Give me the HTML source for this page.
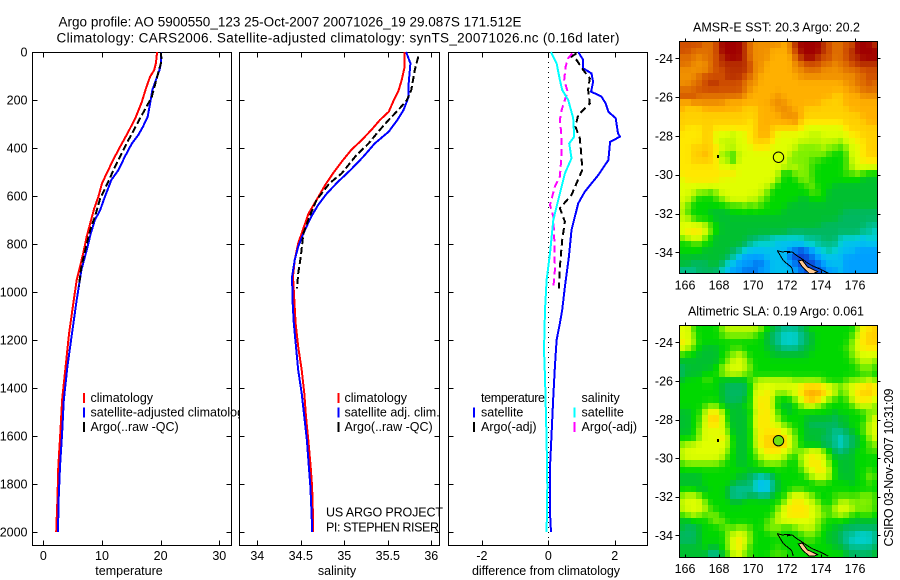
<!DOCTYPE html>
<html lang="en">
<head>
<meta charset="utf-8">
<title>Argo profile 5900550_123</title>
<style>
html,body{margin:0;padding:0;background:#fff;}
svg{display:block;}
text{font-family:"Liberation Sans",sans-serif;font-size:12.5px;fill:#000;}
.ttl{font-size:13.5px;}
</style>
</head>
<body>
<svg id="fig" width="900" height="580" viewBox="0 0 900 580" xmlns="http://www.w3.org/2000/svg">
  <rect x="0" y="0" width="900" height="580" fill="#fff"/>
  <g id="panel-t"></g>
  <g id="panel-s"></g>
  <g id="panel-d"></g>
  <g id="map-sst"></g>
  <g id="map-sla"></g>

  <text class="ttl" x="58.5" y="26.5" textLength="463">Argo profile: AO 5900550_123 25-Oct-2007 20071026_19 29.087S 171.512E</text>
  <text class="ttl" x="56.5" y="42.5" textLength="563">Climatology: CARS2006. Satellite-adjusted climatology: synTS_20071026.nc (0.16d later)</text>

  <g id="overlay-text">
    <text x="129" y="575" text-anchor="middle">temperature</text>
    <text x="337" y="575" text-anchor="middle">salinity</text>
    <text x="472" y="575" textLength="148">difference from climatology</text>
    <text x="693" y="31.5" textLength="167">AMSR-E SST: 20.3 Argo: 20.2</text>
    <text x="688" y="315.5" textLength="176">Altimetric SLA: 0.19 Argo: 0.061</text>
    <text transform="translate(893,546.5) rotate(-90)" textLength="158">CSIRO 03-Nov-2007 10:31:09</text>
  </g>
</svg>
<script>
/* ---------- profile data ---------- */
const depthTicks = [0,200,400,600,800,1000,1200,1400,1600,1800,2000];
const tempTicks = [0,10,20,30];
const salTicks = [34,34.5,35,35.5,36];
const diffTicks = [-2,0,2];

const climDepth = [0,47,75,103,151,207,269,332,394,450,506,547,603,651,714,769,839,894,950,1033,1172,1311,1450,1589,1728,1867,2000];
const climTemp = [19.4,19.2,18.9,18.2,17.5,16.8,15.8,14.5,13.1,11.9,10.8,10.0,9.4,8.7,8.0,7.4,6.8,6.25,5.7,5.2,4.4,3.8,3.2,2.9,2.55,2.4,2.2];
const satTDepth = [0,40,75,117,158,214,269,311,346,381,436,492,533,603,658,700,756,825,908,1033,1172,1311,1450,1589,1728,1867,2000];
const satTemp = [20.1,20.1,19.8,19.2,18.6,18.2,17.8,17.0,16.2,15.1,13.9,12.8,11.6,10.5,9.7,8.8,8.1,7.4,6.5,5.7,4.9,4.1,3.5,3.2,2.85,2.6,2.5];
const argoTDepth = [0,33,186,228,262,318,381,464,554,610,686,742,811,894,936,978];
const argoTemp = [20.0,20.2,18.5,17.6,16.8,15.6,14.2,12.5,10.8,9.7,8.8,8.0,7.3,6.5,6.25,6.1];

const climSDepth = [0,68,117,165,200,249,283,325,367,408,457,506,554,617,672,735,797,867,936,1033,1130,1228,1325,1422,1519,1617,1714,1811,1936,2000];
const climSal = [35.69,35.69,35.66,35.62,35.57,35.51,35.41,35.31,35.20,35.08,34.97,34.87,34.78,34.68,34.59,34.53,34.47,34.43,34.41,34.425,34.44,34.47,34.51,34.54,34.56,34.586,34.61,34.63,34.64,34.64];
const satSDepth = [0,47,130,186,242,283,332,381,436,492,540,589,637,686,756,811,867,936,1033,1130,1228,1325,1422,1519,1617,1714,1811,1936,2000];
const satSal = [35.71,35.76,35.74,35.74,35.68,35.61,35.51,35.35,35.22,35.07,34.93,34.80,34.70,34.62,34.53,34.47,34.43,34.40,34.405,34.42,34.445,34.47,34.51,34.54,34.57,34.59,34.61,34.625,34.63];
const argoSDepth = [19,75,158,200,242,283,332,381,429,506,547,617,686,756,853,922,985];
const argoSal = [35.85,35.81,35.77,35.72,35.62,35.51,35.39,35.28,35.14,34.97,34.83,34.68,34.60,34.53,34.50,34.47,34.456];

const diffSatTDepth = [0,33,68,89,124,165,186,214,249,276,339,353,374,450,512,582,631,742,853,978,1075,1130,1200,1311,1436,1589,1728,1922,2000];
const diffSatT = [0.90,1.05,1.05,1.30,1.35,1.29,1.6,1.73,1.81,2.03,2.1,2.16,1.86,1.81,1.51,1.10,0.90,0.70,0.62,0.50,0.42,0.35,0.25,0.20,0.15,0.10,0.05,0.05,0.08];
const diffSatSDepth = [0,47,117,158,200,276,353,381,443,506,589,700,839,950,1075,1242,1353,1617,1811,2000];
const diffSatS = [0.08,0.25,0.35,0.42,0.60,0.75,0.78,0.63,0.70,0.50,0.35,0.15,0.05,-0.05,-0.10,-0.13,-0.10,-0.05,-0.03,-0.05];
const diffArgoTDepth = [6,19,33,75,110,158,214,262,311,360,436,492,596,651,707,783,894,985];
const diffArgoT = [0.85,0.70,0.85,1.05,1.25,1.2,1.25,0.90,0.82,0.95,1.0,1.02,0.70,0.35,0.50,0.42,0.35,0.32];
const diffArgoSDepth = [6,26,61,117,165,242,283,353,422,519,561,637,686,783,908,985];
const diffArgoS = [0.72,0.60,0.52,0.48,0.58,0.40,0.35,0.40,0.40,0.35,0.20,0.05,0.15,0.18,0.20,0.15];

/* ---------- map data (colour-scale levels 0-20) ---------- */
const lonTicks = [166,168,170,172,174,176];
const latTicks = [-24,-26,-28,-30,-32,-34];
const sstCells = [
[18,18,18,18,17,17,18,20,20,20,20,19,17,16,16,16,16,16,15,16,19,20,20,20,20,19,18,17,17,18,18,20,20,20,19],
[18,18,17,17,17,17,18,20,20,20,20,19,17,16,16,16,15,15,15,16,18,20,20,20,20,19,18,17,17,18,19,20,20,20,20],
[17,17,17,16,17,17,18,19,20,20,20,19,17,16,16,16,15,15,15,15,17,19,20,20,19,18,18,17,17,18,19,19,20,20,20],
[17,17,16,16,16,17,18,19,19,19,19,19,18,16,16,15,15,15,15,15,16,17,18,18,18,17,17,16,17,17,18,19,19,19,19],
[16,16,16,16,16,17,18,18,19,19,19,19,18,16,16,15,15,15,15,15,16,16,17,17,17,16,16,16,16,17,17,17,18,18,18],
[16,16,16,17,18,18,18,18,19,19,19,18,17,16,15,15,15,15,15,15,15,16,16,16,16,16,16,16,16,16,16,17,17,18,18],
[16,16,17,17,18,19,19,18,18,18,18,17,16,16,15,15,15,15,15,15,15,15,15,15,15,15,15,15,15,16,16,17,17,18,17],
[17,17,17,18,18,18,18,18,18,18,18,17,16,15,15,15,15,15,15,15,15,15,15,15,15,15,15,15,15,15,16,16,17,17,17],
[18,18,18,17,17,17,17,17,17,17,17,16,15,15,15,15,15,16,15,15,15,15,15,15,15,15,15,14,14,15,15,15,16,16,16],
[15,15,16,16,16,16,16,16,15,15,15,15,15,15,15,15,16,16,16,15,15,15,15,15,15,14,14,14,14,15,15,15,15,15,15],
[15,14,14,14,15,15,15,15,15,15,15,14,14,14,15,15,15,16,16,16,15,15,14,14,14,14,14,14,14,14,15,15,15,15,15],
[14,14,14,14,14,14,14,14,14,14,14,14,14,14,15,15,15,15,16,16,16,15,14,14,14,14,14,14,14,14,14,14,15,15,15],
[14,14,14,14,14,14,14,14,14,14,14,14,13,14,15,15,15,15,15,15,16,14,13,13,13,13,13,13,13,14,14,14,14,15,15],
[14,13,13,13,14,14,13,13,13,13,13,13,13,14,15,15,14,14,14,14,14,13,12,12,12,12,12,12,12,13,14,14,14,14,14],
[13,13,13,13,14,14,12,12,12,11,12,12,13,14,15,15,14,12,12,12,12,12,12,11,11,12,12,12,12,12,13,13,14,14,14],
[13,13,13,13,14,14,12,11,11,11,12,12,13,14,14,14,13,12,12,12,12,11,11,11,11,11,11,11,10,12,12,13,13,14,14],
[13,13,14,14,14,14,13,12,11,11,12,12,12,13,13,13,12,12,12,12,11,10,10,10,10,11,10,10,9,10,12,12,13,14,14],
[13,13,14,14,15,14,13,10,10,9,11,12,12,12,12,12,12,12,12,11,10,10,10,10,10,10,9,8,8,9,12,12,13,14,14],
[13,13,14,14,14,14,13,11,11,8,12,12,12,12,12,12,12,12,12,10,10,10,10,9,9,8,8,8,8,9,11,12,13,13,13],
[13,13,13,13,13,13,13,12,12,12,12,12,12,12,12,12,12,12,11,11,11,10,10,9,8,8,8,8,8,9,11,12,12,12,12],
[13,13,13,13,13,13,13,13,13,13,12,12,12,12,12,12,12,11,8,8,10,10,10,9,8,8,8,8,8,9,9,10,9,8,8],
[12,13,13,13,13,13,13,12,12,12,12,12,12,12,12,12,12,10,8,8,8,10,10,9,8,8,8,8,8,8,8,8,7,7,7],
[12,12,12,12,12,12,12,12,12,12,12,12,12,12,12,11,10,8,8,8,8,8,9,10,8,8,8,7,7,7,7,7,7,7,7],
[12,12,11,10,10,9,10,12,12,12,12,12,12,12,11,10,8,8,8,8,8,8,8,9,9,8,7,7,7,7,7,7,7,7,7],
[12,11,10,8,8,8,9,10,11,12,12,12,11,11,10,9,8,8,8,8,8,7,7,8,8,8,7,7,7,7,7,7,7,7,7],
[11,10,8,8,8,8,8,8,9,9,9,10,9,10,9,8,8,8,8,7,7,7,7,7,7,7,7,7,7,7,7,7,7,7,7],
[11,9,8,8,8,7,7,7,7,8,8,8,8,8,8,8,8,8,7,7,7,7,7,7,7,7,7,7,7,6,6,6,6,6,6],
[11,11,9,8,8,8,7,7,7,7,7,7,7,7,7,7,7,7,7,7,7,7,7,7,7,7,7,7,6,6,6,6,6,6,6],
[12,12,12,12,11,9,8,7,7,7,7,7,7,7,7,7,7,7,7,7,7,7,7,7,7,6,6,6,6,6,6,6,6,5,5],
[12,13,13,13,12,10,8,7,7,7,7,7,7,7,7,7,7,7,7,6,6,6,6,6,6,6,6,6,6,6,6,6,5,5,4],
[10,11,12,12,10,8,7,7,7,7,7,7,6,6,5,5,4,4,4,4,4,4,5,5,5,6,6,6,4,4,4,4,3,4,4],
[8,8,9,9,8,8,7,7,7,7,7,6,5,4,4,4,4,3,3,3,3,3,4,4,5,5,5,5,4,3,3,3,3,3,3],
[8,8,8,8,7,7,7,7,7,6,5,4,3,3,3,3,3,3,3,2,1,0,1,2,3,4,5,4,3,3,3,2,2,2,2],
[7,7,7,7,7,7,7,7,6,5,3,2,2,2,2,3,3,3,3,1,0,0,0,1,2,3,3,3,3,2,2,2,2,2,2],
[7,7,6,6,6,7,7,6,4,3,2,2,2,1,1,2,3,3,3,2,1,0,0,0,1,2,3,3,3,2,2,2,2,2,2],
[5,5,5,6,6,6,6,4,3,2,2,1,1,1,2,2,3,3,3,3,2,1,0,0,0,1,2,2,3,2,2,2,2,2,2]
];
const slaCells = [
[12,12,9,8,8,8,8,10,11,11,11,11,11,11,10,8,7,6,5,5,5,6,7,8,8,8,8,8,8,8,8,10,13,13,14],
[12,12,10,8,8,8,8,9,10,10,10,10,10,9,8,7,6,5,4,4,4,5,6,7,8,8,8,8,8,8,9,11,13,14,14],
[13,12,11,8,8,8,8,8,8,8,8,8,8,8,8,7,6,5,4,4,4,5,6,7,8,8,8,8,8,8,10,12,13,14,14],
[12,11,9,8,7,7,7,8,8,9,9,8,8,8,8,7,7,6,5,5,5,6,7,7,8,8,8,8,8,9,10,12,13,13,13],
[9,8,8,7,7,7,7,8,9,10,11,10,8,8,8,8,7,7,7,7,7,7,7,8,8,8,8,8,8,8,10,11,12,12,12],
[7,7,7,7,7,7,7,8,10,11,12,11,9,8,8,8,8,8,8,8,8,8,8,8,8,8,8,8,8,8,9,10,11,11,10],
[6,7,7,7,7,7,8,10,11,12,12,11,10,8,8,8,8,8,8,8,8,8,8,8,8,8,8,8,8,8,8,9,10,10,9],
[6,7,7,7,8,8,8,10,11,11,11,10,9,8,8,8,8,8,8,8,8,8,8,8,8,8,8,8,8,8,8,8,9,9,8],
[7,8,8,8,9,9,8,7,7,7,7,7,9,10,11,11,11,11,11,11,10,10,10,10,10,9,8,8,8,9,10,10,10,11,10],
[8,8,8,8,8,8,8,7,6,6,6,6,8,11,12,12,12,12,12,12,12,13,14,14,14,13,12,11,10,11,12,13,13,14,13],
[8,8,8,8,8,8,8,7,6,6,6,6,8,12,12,13,12,10,10,11,12,13,15,15,15,14,13,11,9,10,12,13,14,14,13],
[8,8,8,8,8,8,8,7,6,6,6,7,8,12,13,13,11,8,8,8,10,12,14,15,14,12,10,9,8,9,11,13,13,13,12],
[8,8,8,8,9,10,10,8,7,7,7,8,8,12,13,13,11,8,7,7,8,10,11,11,10,9,8,8,8,8,9,11,11,11,10],
[7,7,8,8,11,13,13,11,8,7,7,7,8,11,13,13,12,9,8,7,8,8,8,8,8,8,8,7,8,8,8,8,9,10,10],
[7,7,8,9,11,14,14,12,8,7,7,7,8,12,13,13,12,10,8,8,8,8,7,7,7,7,7,6,7,7,8,8,8,10,12],
[7,7,8,9,12,13,13,12,9,7,7,7,8,12,13,13,12,12,10,9,8,8,7,6,6,6,6,6,7,7,8,8,9,11,12],
[7,7,8,10,12,12,12,12,10,7,7,7,8,11,13,13,13,13,12,11,9,8,7,7,7,7,6,5,5,6,7,8,9,11,12],
[8,8,8,10,12,12,12,13,11,8,7,7,8,11,13,14,14,14,14,12,10,8,7,7,7,6,6,5,4,5,6,7,8,10,12],
[10,11,11,12,12,12,12,12,11,8,7,7,8,11,13,14,14,14,14,12,10,8,7,7,7,6,6,5,4,5,6,7,8,9,10],
[11,12,12,12,12,12,12,12,10,8,7,7,8,10,12,13,13,13,12,11,10,10,11,12,12,10,8,6,5,6,7,8,8,9,9],
[11,12,12,12,12,12,12,11,9,8,7,7,8,9,11,12,12,12,11,9,8,11,12,13,12,12,9,7,7,7,7,8,8,8,8],
[9,10,10,10,10,10,10,9,8,8,7,7,8,8,9,10,10,10,9,8,8,10,12,13,13,12,10,8,7,7,7,8,8,8,8],
[8,8,8,8,8,8,8,8,8,8,8,8,7,8,8,8,8,8,8,8,8,9,11,12,13,13,11,8,7,7,7,8,8,9,8],
[7,7,7,7,8,8,8,8,8,8,7,7,6,5,4,5,6,8,8,8,8,8,9,11,12,12,11,8,7,7,7,8,8,10,9],
[7,7,7,7,8,8,8,8,8,7,6,6,6,4,3,3,5,7,8,8,8,8,8,8,9,9,8,8,8,8,7,8,8,9,8],
[8,8,8,7,7,8,8,8,7,5,5,5,5,4,3,3,5,7,8,8,9,9,8,8,8,8,8,8,8,8,8,8,8,8,8],
[10,11,11,10,8,8,8,8,7,5,5,5,6,6,5,5,7,8,8,11,12,12,11,10,8,8,8,9,9,9,9,9,10,10,9],
[11,12,12,12,10,8,8,8,8,7,7,8,8,8,8,8,8,8,10,12,13,13,12,11,10,8,8,9,11,11,10,10,10,10,9],
[11,12,12,12,11,9,8,8,8,8,8,8,8,8,8,8,8,10,12,13,13,13,13,12,11,9,9,11,12,12,11,10,10,10,9],
[9,10,11,10,9,10,10,8,8,8,8,8,8,8,8,8,9,11,12,13,13,13,13,12,11,10,9,10,11,10,9,8,9,9,8],
[7,7,8,8,8,9,10,10,8,8,8,8,8,8,8,9,10,11,12,12,12,12,12,12,10,9,8,8,8,8,7,7,7,7,7],
[7,6,6,7,8,8,8,9,10,9,10,10,9,8,8,10,10,10,9,9,10,11,11,11,10,8,8,7,7,6,6,6,6,6,6],
[6,6,6,7,8,8,8,8,10,11,12,11,10,8,8,8,9,9,8,8,8,9,10,10,9,8,7,7,6,5,5,4,4,4,5],
[6,6,6,7,8,8,8,8,10,12,13,12,10,8,8,8,8,8,8,8,8,8,9,9,8,8,7,7,6,5,4,4,4,4,5],
[7,7,7,7,8,7,7,8,10,12,13,11,9,8,8,8,8,9,8,8,8,8,8,8,8,8,8,7,7,6,5,5,5,5,6],
[7,7,7,7,7,5,5,7,9,11,12,10,9,8,8,8,9,9,9,8,8,8,8,8,8,8,8,8,8,7,6,6,6,6,7]
];
const colourScale = ['#0a45d8','#0078f0','#00a0ff','#00c0f0','#00d0d0','#00c090','#00b860','#00c030','#00d800','#40e000','#80f000','#c0f800','#e0ff00','#ffe800','#ffd000','#ffb000','#f09000','#e07000','#d05000','#b83000','#a00000'];

const coastWestLon = [171.43,171.78,172.27,172.37];
const coastWestLat = [-33.91,-34.43,-34.78,-35.08];
const coastEastLon = [171.43,171.7,172.18,172.0,172.3,172.57,172.9,173.16,173.5,173.94,174.43];
const coastEastLat = [-33.91,-33.98,-33.95,-34.03,-33.98,-34.17,-34.35,-34.52,-34.7,-34.86,-35.08];
const landLon = [172.67,172.9,173.2,173.8,173.6,173.3,172.9];
const landLat = [-34.45,-34.4,-34.75,-35.0,-35.08,-35.08,-34.75];
const floatLon = 171.5;
const floatLat = -29.1;
const islandLon = 167.94;
const islandLat = -29.05;

/* ---------- axis functions ---------- */
const yDepth = d => 52 + d * 0.24;
const xTemp = v => 43.3 + v * 5.867;
const xSal = v => 257.3 + (v - 34) * 87;
const xDiff = v => 548.3 + v * 33.2;
const xLon = v => 685 + (v - 166) * 17;
const ySst = v => 58.3 + (-24 - v) * 19.4;
const ySla = v => 342.3 + (-24 - v) * 19.3;

const NS = 'http://www.w3.org/2000/svg';
function mk(tag, attrs, parent) {
  const el = document.createElementNS(NS, tag);
  for (const k in attrs) el.setAttribute(k, attrs[k]);
  parent.appendChild(el);
  return el;
}

function hexToRgb(h) {
  return [parseInt(h.slice(1,3),16), parseInt(h.slice(3,5),16), parseInt(h.slice(5,7),16)];
}
function levelColour(level) {
  const top = colourScale.length - 1;
  const v = Math.max(0, Math.min(top, level));
  const i = Math.min(top - 1, Math.floor(v));
  const f = v - i;
  const a = hexToRgb(colourScale[i]);
  const b = hexToRgb(colourScale[i + 1]);
  return 'rgb(' + a.map((q, k) => Math.round(q + (b[k] - q) * f)).join(',') + ')';
}
/* gentle display smoothing: centre cell plus its four neighbours */
function displayLevel(cells, r, c) {
  const at = (rr, cc) => {
    const row = cells[Math.max(0, Math.min(cells.length - 1, rr))];
    return row[Math.max(0, Math.min(row.length - 1, cc))];
  };
  return 0.5 * at(r, c) + 0.125 * (at(r - 1, c) + at(r + 1, c) + at(r, c - 1) + at(r, c + 1));
}

function drawTicks(group, box, xTicks, xFn, showY) {
  depthTicks.forEach(d => {
    const y = Math.round(yDepth(d)) + 0.5;
    const a = mk('path', {d:`M${box.l} ${y}h5M${box.r} ${y}h-5`, stroke:'#000', fill:'none', 'shape-rendering':'crispEdges'}, group);
    
    
    if (showY) {
      const t = mk('text', {x:27.5, y:yDepth(d) + 4.5, 'text-anchor':'end'}, group);
      t.textContent = d;
      
      
    }
  });
  xTicks.forEach(v => {
    const x = Math.round(xFn(v)) + 0.5;
    const a = mk('path', {d:`M${x} ${box.t}v5M${x} ${box.b}v-5`, stroke:'#000', fill:'none', 'shape-rendering':'crispEdges'}, group);
    
    
    const t = mk('text', {x:xFn(v), y:560, 'text-anchor':'middle'}, group);
    t.textContent = v;
    
    
  });
}

function drawPanelBox(group, box) {
  const r = mk('rect', {x:box.l, y:box.t, width:box.r-box.l, height:box.b-box.t, fill:'#fff', stroke:'#000', 'shape-rendering':'crispEdges'}, group);
  
  
}

function drawCurve(group, values, depths, xFn, colour, width, dash, name) {
  const pts = values.map((v, i) => xFn(v).toFixed(1) + ',' + yDepth(depths[i]).toFixed(1)).join(' ');
  const attrs = {points:pts, fill:'none', stroke:colour, 'stroke-width':width, 'shape-rendering':'crispEdges'};
  if (dash) attrs['stroke-dasharray'] = dash;
  const el = mk('polyline', attrs, group);
  
  
}

function legendEntry(group, barX, textX, row, colour, label, name, fitWidth) {
  const rowTop = [393, 407.5, 422][row];
  const baseline = [402, 416.5, 431][row];
  if (colour) {
    const b = mk('rect', {x:barX, y:rowTop, width:2, height:10, fill:colour, 'shape-rendering':'crispEdges'}, group);
    
    
  }
  const t = mk('text', {x:textX, y:baseline}, group);
  t.textContent = label;
  if (fitWidth) t.setAttribute('textLength', fitWidth);
  
  
}

/* ---------- temperature panel ---------- */
const gT = document.getElementById('panel-t');
const boxT = {l:32.5, r:231.5, t:52.5, b:545.5};
drawPanelBox(gT, boxT);
drawTicks(gT, boxT, tempTicks, xTemp, true);
drawCurve(gT, climTemp, climDepth, xTemp, '#ff0000', 2, null, 'climatology-temperature-line');
drawCurve(gT, satTemp, satTDepth, xTemp, '#0000ff', 2, null, 'satellite-temperature-line');
drawCurve(gT, argoTemp, argoTDepth, xTemp, '#000000', 2, '7 3', 'argo-temperature-line');
legendEntry(gT, 83, 90.5, 0, '#ff0000', 'climatology', 'legend-climatology');
legendEntry(gT, 83, 90.5, 1, '#0000ff', 'satellite-adjusted climatology', 'legend-satellite-adjusted');
legendEntry(gT, 83, 90.5, 2, '#000000', 'Argo(..raw -QC)', 'legend-argo');

/* ---------- salinity panel ---------- */
const gS = document.getElementById('panel-s');
const boxS = {l:239.5, r:439.5, t:52.5, b:545.5};
drawPanelBox(gS, boxS);
drawTicks(gS, boxS, salTicks, xSal, false);
drawCurve(gS, climSal, climSDepth, xSal, '#ff0000', 2, null, 'climatology-salinity-line');
drawCurve(gS, satSal, satSDepth, xSal, '#0000ff', 2, null, 'satellite-salinity-line');
drawCurve(gS, argoSal, argoSDepth, xSal, '#000000', 2, '7 3', 'argo-salinity-line');
legendEntry(gS, 337.5, 344.5, 0, '#ff0000', 'climatology', 'legend-climatology');
legendEntry(gS, 337.5, 344.5, 1, '#0000ff', 'satellite adj. clim.', 'legend-satellite-adjusted');
legendEntry(gS, 337.5, 344.5, 2, '#000000', 'Argo(..raw -QC)', 'legend-argo');
const credit1 = mk('text', {x:326, y:516.5, textLength:117}, gS);
credit1.textContent = 'US ARGO PROJECT';


const credit2 = mk('text', {x:326, y:531.5, textLength:113}, gS);
credit2.textContent = 'PI: STEPHEN RISER';



/* ---------- difference panel ---------- */
const gD = document.getElementById('panel-d');
const boxD = {l:448.5, r:647.5, t:52.5, b:545.5};
drawPanelBox(gD, boxD);
drawTicks(gD, boxD, diffTicks, xDiff, false);
const zero = mk('line', {x1:Math.round(xDiff(0))+0.5, x2:Math.round(xDiff(0))+0.5, y1:52, y2:545, stroke:'#000', 'stroke-dasharray':'1 4', 'shape-rendering':'crispEdges'}, gD);


legendEntry(gD, 473, 481, 0, null, 'temperature', 'legend-temperature-heading', 64);
legendEntry(gD, 473, 481, 1, '#0000ff', 'satellite', 'legend-temperature-satellite');
legendEntry(gD, 473, 481, 2, '#000000', 'Argo(-adj)', 'legend-temperature-argo');
legendEntry(gD, 573.5, 581.5, 0, null, 'salinity', 'legend-salinity-heading');
legendEntry(gD, 573.5, 581.5, 1, '#00ffff', 'satellite', 'legend-salinity-satellite');
legendEntry(gD, 573.5, 581.5, 2, '#ff00ff', 'Argo(-adj)', 'legend-salinity-argo');
drawCurve(gD, diffSatT, diffSatTDepth, xDiff, '#0000ff', 2, null, 'satellite-temperature-difference-line');
drawCurve(gD, diffArgoT, diffArgoTDepth, xDiff, '#000000', 2, '7 4', 'argo-temperature-difference-line');
drawCurve(gD, diffArgoS, diffArgoSDepth, xDiff, '#ff00ff', 2, '7 4', 'argo-salinity-difference-line');
drawCurve(gD, diffSatS, diffSatSDepth, xDiff, '#00ffff', 2, null, 'satellite-salinity-difference-line');

/* ---------- maps ---------- */
function drawMap(group, cells, yFn, box, topLat, labelY, floatFill) {
  const lonStep = (177.31 - 165.665) / 35;
  const latStep = 11.96 / 36;
  cells.forEach((row, r) => {
    row.forEach((level, c) => {
      const x0 = Math.round(xLon(165.665 + c * lonStep));
      const x1 = Math.round(xLon(165.665 + (c + 1) * lonStep));
      const y0 = Math.round(yFn(topLat - r * latStep));
      const y1 = Math.round(yFn(topLat - (r + 1) * latStep));
      const cell = mk('rect', {x:x0, y:y0, width:x1 - x0, height:y1 - y0, fill:levelColour(displayLevel(cells, r, c)), 'shape-rendering':'crispEdges'}, group);
      
      
    });
  });
  const toPts = (lons, lats) => lons.map((v, i) => xLon(v).toFixed(1) + ',' + yFn(lats[i]).toFixed(1)).join(' ');
  const land = mk('polygon', {points:toPts(landLon, landLat), fill:'#ffc890', stroke:'#000', 'stroke-width':1, 'shape-rendering':'crispEdges'}, group);
  
  
  const west = mk('polyline', {points:toPts(coastWestLon, coastWestLat), fill:'none', stroke:'#000', 'stroke-width':1, 'shape-rendering':'crispEdges'}, group);
  
  
  const east = mk('polyline', {points:toPts(coastEastLon, coastEastLat), fill:'none', stroke:'#000', 'stroke-width':1, 'shape-rendering':'crispEdges'}, group);
  
  
  const island = mk('rect', {x:Math.round(xLon(islandLon)) - 1, y:Math.round(yFn(islandLat)) - 1, width:2, height:3, fill:'#000', 'shape-rendering':'crispEdges'}, group);
  
  
  const circle = mk('circle', {cx:xLon(floatLon), cy:yFn(floatLat), r:5.2, fill:floatFill, stroke:'#000', 'stroke-width':1}, group);
  
  
  const frame = mk('rect', {x:box.l, y:box.t, width:box.r-box.l, height:box.b-box.t, fill:'none', stroke:'#000', 'shape-rendering':'crispEdges'}, group);
  
  
  lonTicks.forEach(v => {
    const x = Math.round(xLon(v)) + 0.5;
    const tk = mk('path', {d:`M${x} ${box.t}v-3M${x} ${box.b}v-3`, stroke:'#000', fill:'none', 'shape-rendering':'crispEdges'}, group);
    
    
    const t = mk('text', {x:xLon(v), y:labelY, 'text-anchor':'middle'}, group);
    t.textContent = v;
    
    
  });
  latTicks.forEach(v => {
    const y = Math.round(yFn(v)) + 0.5;
    const tk = mk('path', {d:`M${box.l} ${y}h-4M${box.r} ${y}h3`, stroke:'#000', fill:'none', 'shape-rendering':'crispEdges'}, group);
    
    
    const t = mk('text', {x:673, y:yFn(v) + 4.5, 'text-anchor':'end'}, group);
    t.textContent = v;
    
    
  });
}
drawMap(document.getElementById('map-sst'), sstCells, ySst, {l:679.5, r:877.5, t:41.5, b:273.5}, -23.12, 289.5, 'none');
drawMap(document.getElementById('map-sla'), slaCells, ySla, {l:679.5, r:877.5, t:325.5, b:557.5}, -23.14, 573, '#70e010');
</script>
</body>
</html>
